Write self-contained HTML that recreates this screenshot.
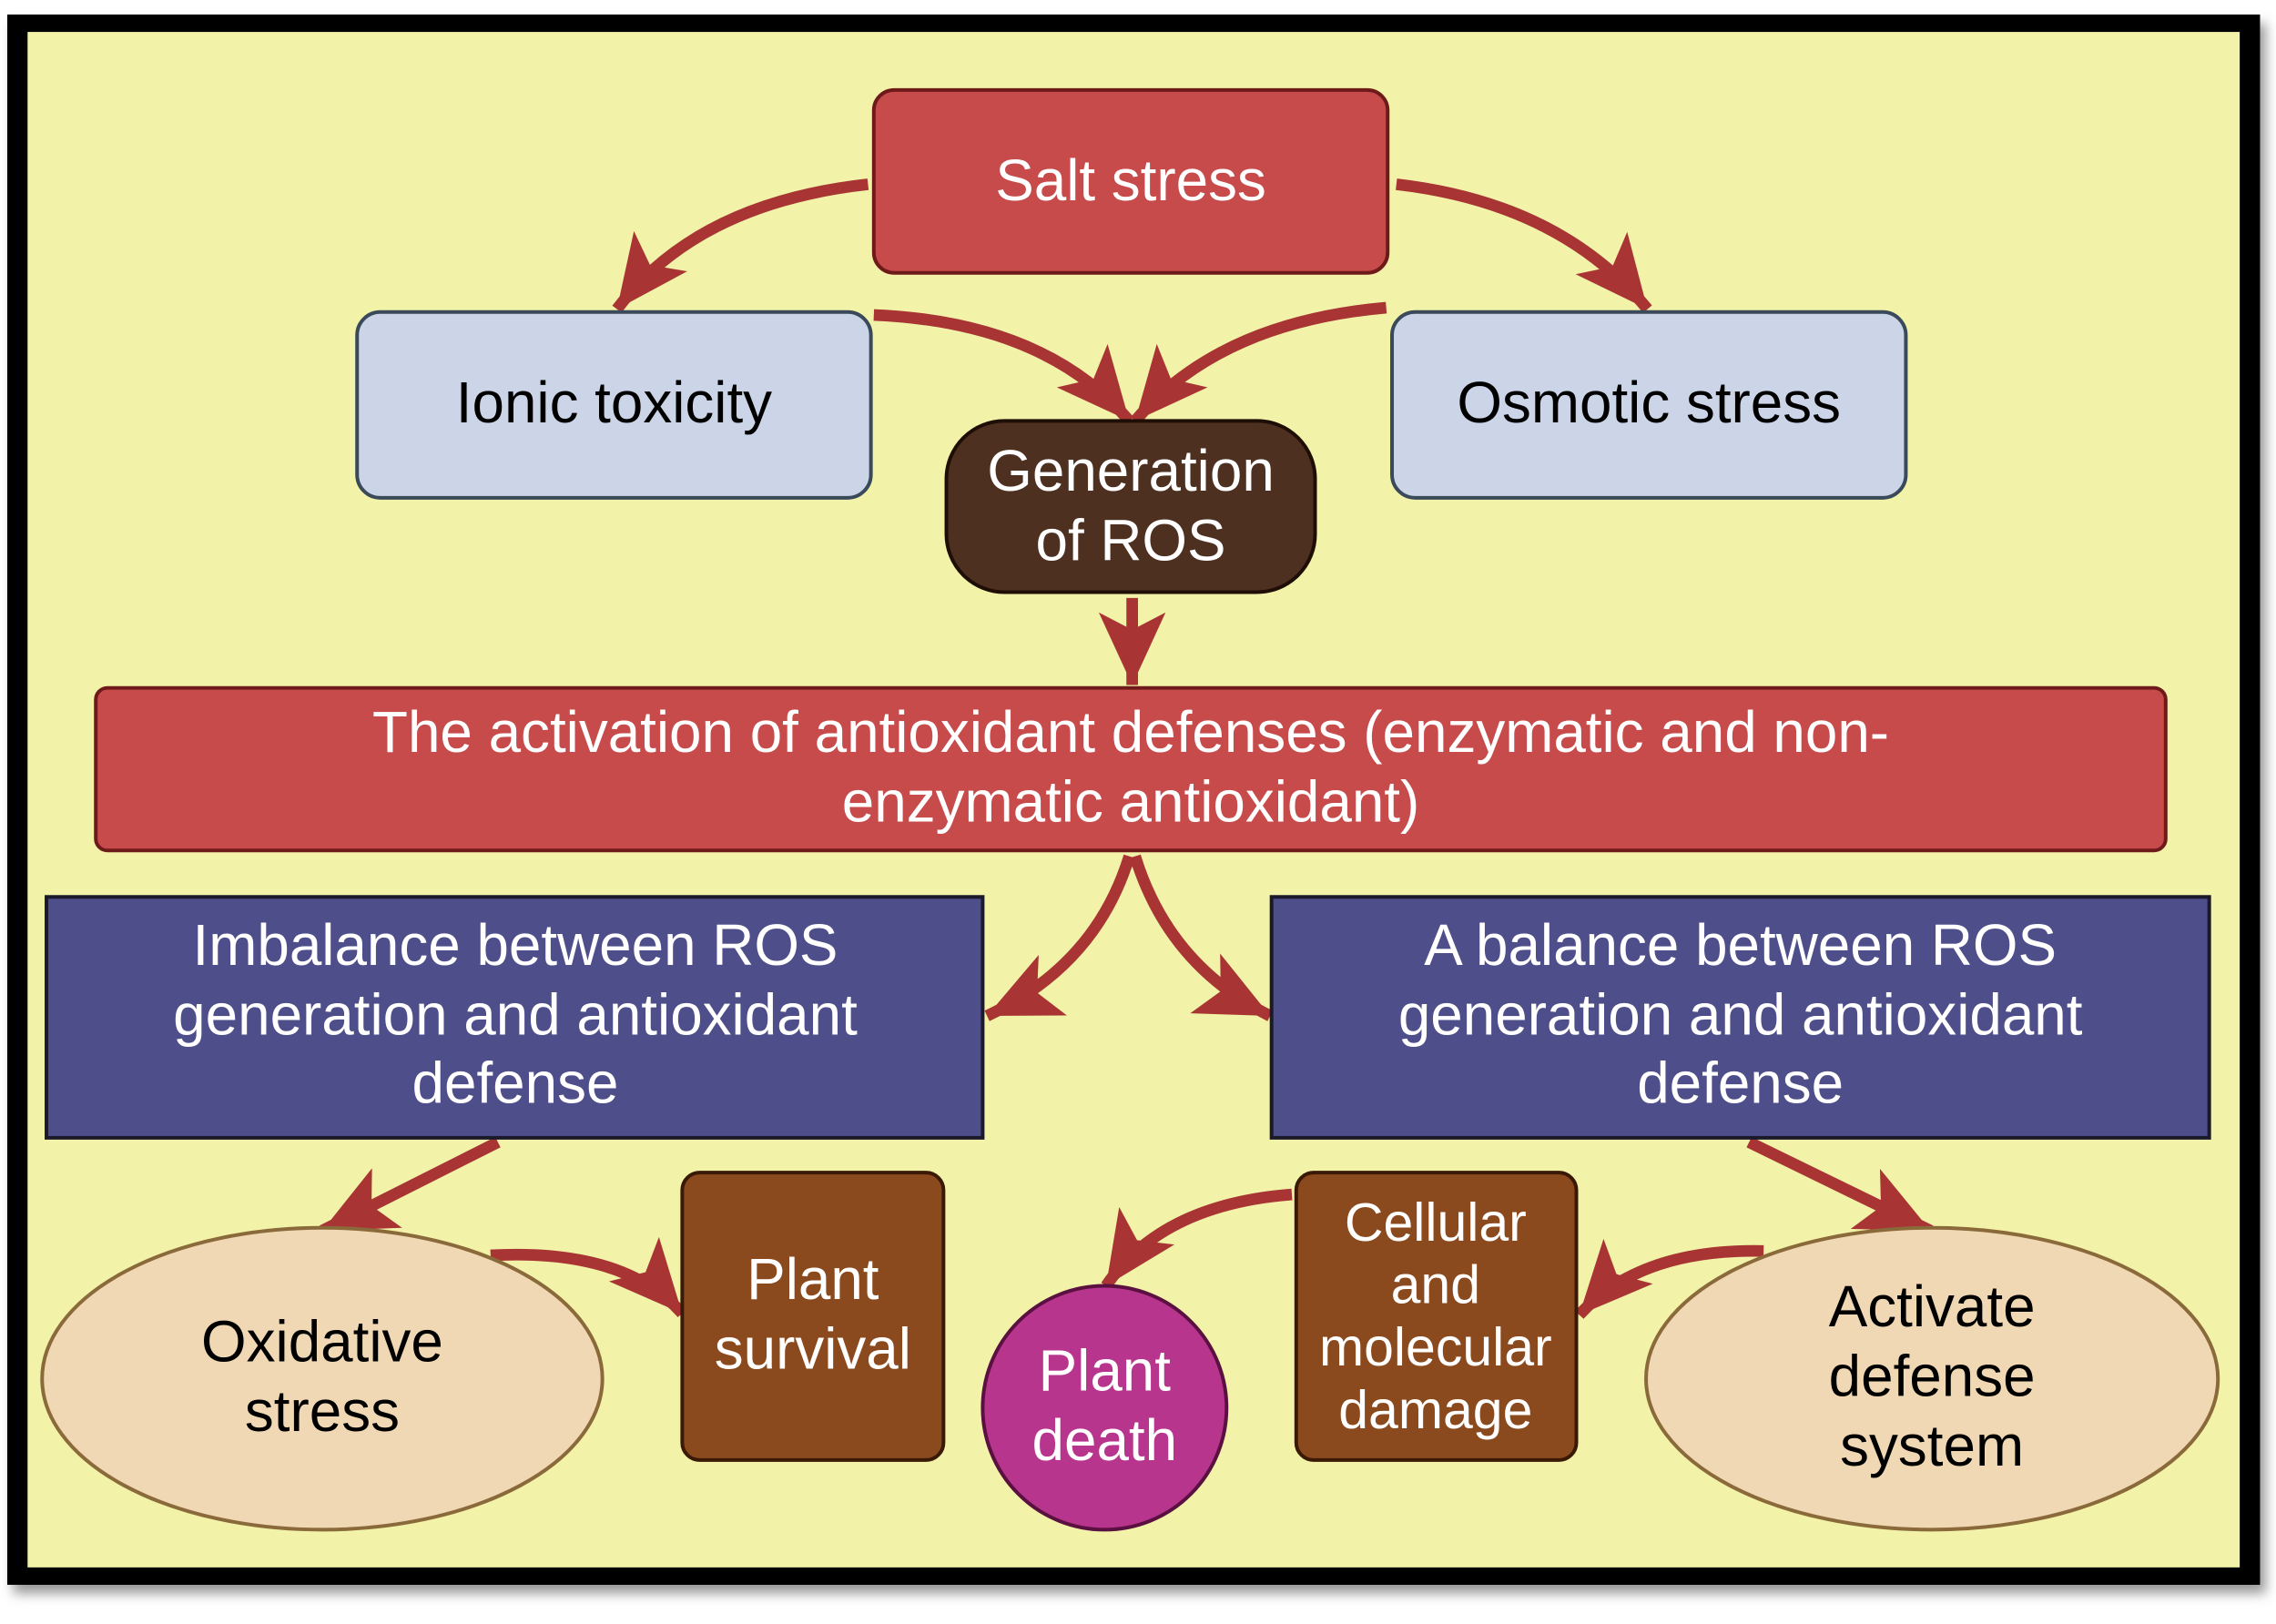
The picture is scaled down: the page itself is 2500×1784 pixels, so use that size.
<!DOCTYPE html>
<html><head><meta charset="utf-8"><style>
html,body{margin:0;padding:0;background:#fff;}
svg{display:block;}
text{font-family:"Liberation Sans",Arial,sans-serif;}
</style></head><body>
<svg width="2500" height="1784" viewBox="0 0 1568 1119" preserveAspectRatio="none" xmlns="http://www.w3.org/2000/svg">
<defs>
<marker id="ah" markerUnits="userSpaceOnUse" markerWidth="60" markerHeight="60" refX="50" refY="25" orient="auto">
<path d="M0,2 L50,25 L0,48 L12,25 Z" fill="#a83434"/>
</marker>
<filter id="sh" x="-5%" y="-5%" width="110%" height="110%"><feGaussianBlur stdDeviation="4"/></filter>
</defs>
<rect width="1568" height="1119" fill="#fff"/>
<rect x="9" y="16" width="1552" height="1082" fill="#999" filter="url(#sh)"/>
<rect x="5" y="10" width="1552" height="1082" fill="#000"/>
<rect x="19" y="22" width="1524" height="1058" fill="#f2f2a8"/>

<g fill="none" stroke="#a83434" stroke-width="8" marker-end="url(#ah)">
<path d="M598,127 Q480,140 425,213"/>
<path d="M962,127 Q1075,140 1135,213"/>
<path d="M602,217 Q720,222 778,290"/>
<path d="M955,212 Q840,222 782,290"/>
<path d="M780,412 L780,472"/>
<path d="M778,590 Q755,665 680,700"/>
<path d="M782,590 Q805,665 875,700"/>
<path d="M343,787 L222,848"/>
<path d="M338,865 Q430,860 470,905"/>
<path d="M1205,787 L1330,848"/>
<path d="M890,823 Q800,830 762,886"/>
<path d="M1215,862 Q1130,860 1088,906"/>
</g>

<rect x="602" y="62" width="354" height="126" rx="14" fill="#c84b4b" stroke="#6e1a1a" stroke-width="2.5"/>
<text x="779" y="138" font-size="40" fill="#fff" text-anchor="middle">Salt stress</text>

<rect x="246" y="215" width="354" height="128" rx="16" fill="#ccd5e8" stroke="#3a4a5a" stroke-width="2.5"/>
<text x="423" y="291" font-size="40" fill="#000" text-anchor="middle">Ionic toxicity</text>

<rect x="959" y="215" width="354" height="128" rx="16" fill="#ccd5e8" stroke="#3a4a5a" stroke-width="2.5"/>
<text x="1136" y="291" font-size="40" fill="#000" text-anchor="middle">Osmotic stress</text>

<rect x="652" y="290" width="254" height="118" rx="40" fill="#4e3020" stroke="#1e0e06" stroke-width="2.5"/>
<text x="779" y="338" font-size="40" fill="#fff" text-anchor="middle">Generation</text>
<text x="779" y="386" font-size="40" fill="#fff" text-anchor="middle">of ROS</text>

<rect x="66" y="474" width="1426" height="112" rx="8" fill="#c84b4b" stroke="#6e1a1a" stroke-width="2.5"/>
<text x="779" y="518" font-size="40" fill="#fff" text-anchor="middle">The activation of antioxidant defenses (enzymatic and non-</text>
<text x="779" y="566" font-size="40" fill="#fff" text-anchor="middle">enzymatic antioxidant)</text>

<rect x="32" y="618" width="645" height="166" fill="#4e4e8a" stroke="#1a1a2a" stroke-width="2.5"/>
<text x="355" y="665" font-size="40" fill="#fff" text-anchor="middle">Imbalance between ROS</text>
<text x="355" y="713" font-size="40" fill="#fff" text-anchor="middle">generation and antioxidant</text>
<text x="355" y="760" font-size="40" fill="#fff" text-anchor="middle">defense</text>

<rect x="876" y="618" width="646" height="166" fill="#4e4e8a" stroke="#1a1a2a" stroke-width="2.5"/>
<text x="1199" y="665" font-size="40" fill="#fff" text-anchor="middle">A balance between ROS</text>
<text x="1199" y="713" font-size="40" fill="#fff" text-anchor="middle">generation and antioxidant</text>
<text x="1199" y="760" font-size="40" fill="#fff" text-anchor="middle">defense</text>

<ellipse cx="222" cy="950" rx="193" ry="104" fill="#f0d8b4" stroke="#8a6a3a" stroke-width="2.5"/>
<text x="222" y="938" font-size="40" fill="#000" text-anchor="middle">Oxidative</text>
<text x="222" y="986" font-size="40" fill="#000" text-anchor="middle">stress</text>

<rect x="470" y="808" width="180" height="198" rx="12" fill="#8b4a1e" stroke="#3a1a06" stroke-width="2.5"/>
<text x="560" y="895" font-size="40" fill="#fff" text-anchor="middle">Plant</text>
<text x="560" y="943" font-size="40" fill="#fff" text-anchor="middle">survival</text>

<ellipse cx="761" cy="970" rx="84" ry="84" fill="#b8358e" stroke="#5a1040" stroke-width="2.5"/>
<text x="761" y="958" font-size="40" fill="#fff" text-anchor="middle">Plant</text>
<text x="761" y="1006" font-size="40" fill="#fff" text-anchor="middle">death</text>

<rect x="893" y="808" width="193" height="198" rx="12" fill="#8b4a1e" stroke="#3a1a06" stroke-width="2.5"/>
<text x="989" y="855" font-size="37" fill="#fff" text-anchor="middle">Cellular</text>
<text x="989" y="898" font-size="37" fill="#fff" text-anchor="middle">and</text>
<text x="989" y="941" font-size="37" fill="#fff" text-anchor="middle">molecular</text>
<text x="989" y="984" font-size="37" fill="#fff" text-anchor="middle">damage</text>

<ellipse cx="1331" cy="950" rx="197" ry="104" fill="#f0d8b4" stroke="#8a6a3a" stroke-width="2.5"/>
<text x="1331" y="914" font-size="40" fill="#000" text-anchor="middle">Activate</text>
<text x="1331" y="962" font-size="40" fill="#000" text-anchor="middle">defense</text>
<text x="1331" y="1010" font-size="40" fill="#000" text-anchor="middle">system</text>
</svg>
</body></html>
